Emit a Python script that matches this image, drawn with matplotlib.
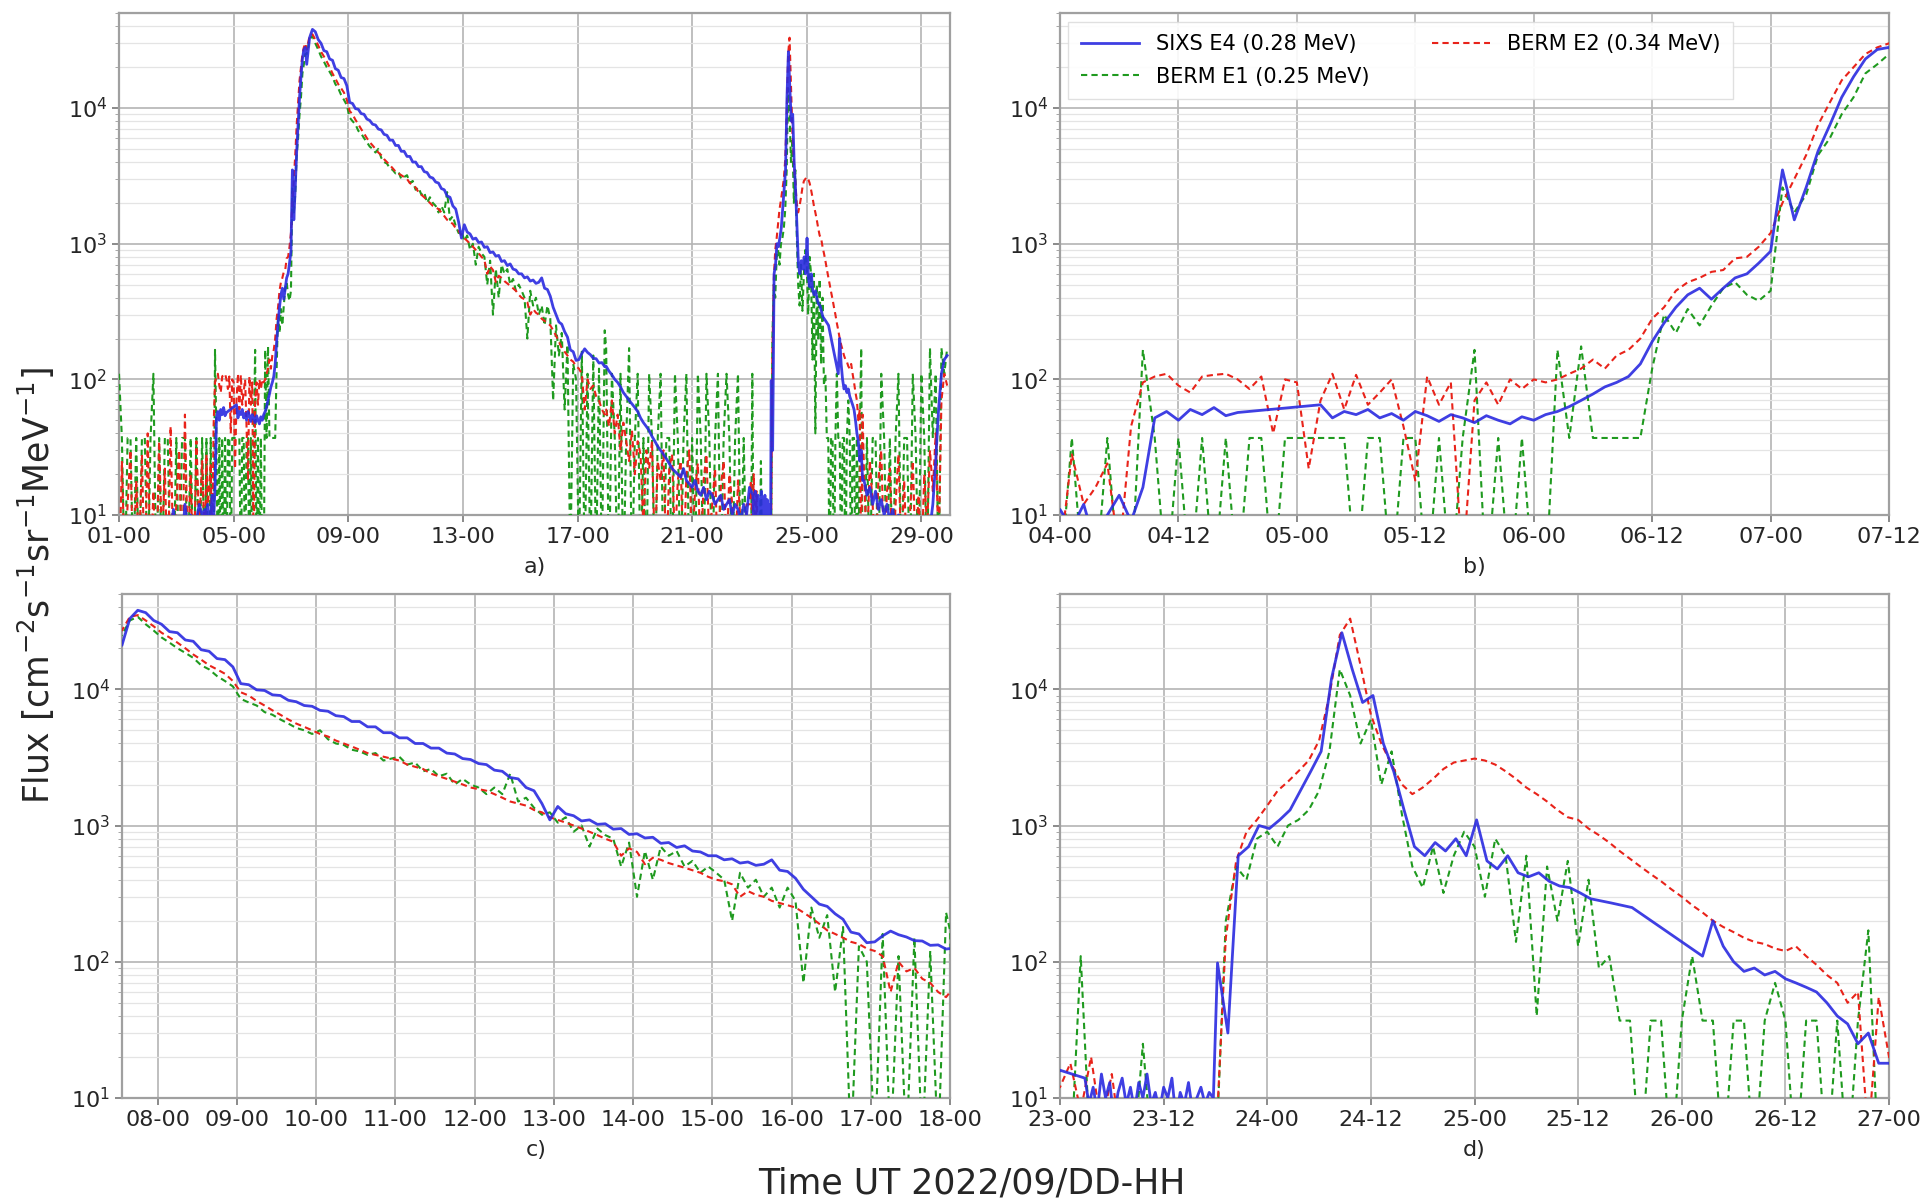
import numpy as np
import matplotlib
matplotlib.use("Agg")
import matplotlib.pyplot as plt
from matplotlib.ticker import FixedLocator, FuncFormatter, LogLocator, NullFormatter

# ---------------------------------------------------------------------------
# DATA  (time in days of September 2022, flux in cm^-2 s^-1 sr^-1 MeV^-1)
# Each series is stored as regularly-sampled segments: (t_start, t_end, values)
# values < 10 are below the plotted range (drop-outs)
# ---------------------------------------------------------------------------
series_labels = ["SIXS E4 (0.28 MeV)", "BERM E1 (0.25 MeV)", "BERM E2 (0.34 MeV)"]

# ---- SIXS E4 ----
sixs_s1 = [8, 6, 9, 5, 7, 8, 6, 9, 7, 5, 8, 6, 9, 7, 8, 5, 9, 6, 8, 11, 7, 9, 6, 12, 8, 10, 7, 9, 12, 10]
sixs_s2a = [11, 8, 12, 6, 10, 14, 9, 16, 52, 58, 50, 60, 55, 62, 54, 57]
sixs_s2b = [65, 52, 58, 55, 60, 52, 56, 50, 58, 54, 49, 55, 52, 48, 54, 50, 47, 53, 50, 55,
            58, 63, 70, 78, 88, 95, 105, 130, 190, 260, 340, 420, 470, 390, 470, 560, 600, 720, 880,
            3500, 1500, 2600, 4800, 7500, 12000, 17000, 23000, 27000, 28000]
sixs_s3 = [21000, 33000, 38000, 36500, 32000, 30000, 26500, 26000, 23000, 22500,
           19500, 19000, 16800, 16500, 14600, 11000, 10800, 9900, 9800, 9100,
           9000, 8300, 8100, 7600, 7500, 7000, 6900, 6400, 6300, 5800,
           5800, 5300, 5300, 4800, 4800, 4400, 4400, 4000, 4000, 3700,
           3700, 3400, 3350, 3100, 3050, 2850, 2800, 2550, 2500, 2250,
           2200, 1900, 1800, 1450, 1100, 1380, 1220, 1180, 1080, 1100,
           1020, 1030, 940, 950, 860, 870, 810, 820, 740, 750,
           690, 710, 650, 640, 600, 600, 560, 570, 530, 540,
           510, 520, 560, 470, 460, 410, 340, 300, 265, 255,
           225, 205, 165, 160, 138, 140, 155, 168, 158, 152,
           143, 142, 132, 133, 124]
sixs_s4 = [125, 115, 108, 100, 95, 88, 80, 75, 70, 66, 62, 58, 52, 48, 45, 42, 38, 35, 32, 30,
           28, 26, 24, 22, 21, 20, 19, 22, 18, 17, 16, 18, 15, 14, 16, 13, 15, 14, 12, 13,
           14, 11, 12, 13, 10, 12, 11, 9, 12, 10]
sixs_s5a = [16]
sixs_s5b = [14, 9, 12, 8, 15, 10, 13, 7, 11, 14, 9, 12, 8, 13, 10, 15, 9, 11, 8, 12,
            10, 14, 7, 11, 9, 13, 8, 10, 12, 9, 11, 10]
sixs_s5c = [98, 30, 600, 700, 1000, 950, 1100, 1300, 1800, 2500, 3500, 12000, 26000, 14000,
            8000, 9000, 4000, 2500, 1300, 700, 600, 750, 650, 800, 600, 1100, 550, 480, 600,
            450, 420, 450, 390, 360, 350, 320, 290, 280, 270, 260, 250]
sixs_s5d = [110, 200, 130, 100, 85, 90, 80, 85, 75, 70, 65, 60, 50, 40, 35, 25, 30, 18]
sixs_s6 = [18, 14, 16, 12, 15, 11, 13, 10, 12, 9, 11, 8, 10, 7, 9, 8, 6, 9, 7, 8,
           6, 9, 7, 8, 12, 25, 60, 110, 140, 150]

# ---- BERM E1 ----
e1_s1 = [110, 37, 3, 37, 37, 3, 37, 3, 37, 37, 3, 37, 110, 3, 37, 3, 37, 37, 3, 3,
         37, 3, 37, 37, 3, 37, 3, 37, 3, 37]
e1_s2 = [3, 37, 3, 3, 37, 3, 3, 165, 37, 3, 37, 3, 37, 3, 37, 3, 37, 37, 3, 37,
         37, 37, 37, 37, 37, 3, 37, 37, 3, 37, 37, 3, 37, 3, 37, 165, 3, 37, 3, 37,
         3, 3, 165, 37, 175, 37, 37, 37, 37, 37, 120, 300, 220, 330, 250, 350, 470, 520, 420, 380,
         450, 2600, 1700, 2300, 4500, 6000, 9000, 12000, 18000, 21000, 25000]
e1_s3 = [25000, 32000, 34000, 30000, 27000, 24000, 22000, 20000, 18500, 17000,
         15000, 14000, 12500, 11500, 10500, 8500, 8000, 7600, 6800, 6500,
         6000, 5600, 5200, 5000, 4700, 5000, 4300, 4000, 3900, 3600,
         3500, 3300, 3400, 3000, 3100, 3200, 2800, 2900, 2500, 2600,
         2300, 2400, 2000, 2200, 2000, 1900, 1700, 1900, 1700, 2400,
         1500, 1600, 1350, 1200, 1250, 1050, 1150, 900, 1000, 700,
         950, 850, 800, 500, 750, 300, 650, 400, 700, 600,
         650, 500, 550, 450, 500, 450, 400, 200, 450, 350,
         400, 300, 350, 250, 350, 280, 70, 250, 150, 220,
         60, 180, 4, 130, 100, 4, 160, 4, 110, 4,
         150, 4, 120, 4, 230]
e1_s4 = [170, 3, 110, 37, 3, 110, 3, 37, 170, 3, 37, 110, 3, 37, 3, 110, 37, 3, 37, 110,
         3, 37, 37, 3, 110, 37, 3, 37, 110, 3, 37, 3, 110, 37, 3, 110, 37, 3, 37, 110,
         3, 37, 110, 37, 3, 37, 110, 3, 37, 3]
e1_s5 = [3, 3, 110, 3, 3, 3, 3, 3, 25, 3, 3, 3, 3, 3, 3, 3, 200, 500, 400, 800,
         900, 700, 1000, 1100, 1300, 1800, 3500, 14000, 9000, 4000, 6000, 2000, 3500, 1200, 500, 350,
         700, 320, 600, 900, 700, 300, 800, 600, 140, 600, 40, 500, 200, 550,
         130, 400, 90, 110, 37, 37, 3, 37, 37, 3, 37, 110, 37, 37, 3, 37, 37, 3, 37, 70,
         37, 3, 37, 37, 3, 37, 3, 37, 170, 3]
e1_s6 = [3, 37, 3, 37, 37, 3, 110, 37, 3, 37, 3, 37, 110, 3, 37, 37, 3, 110, 37, 3,
         110, 37, 3, 170, 37, 110, 3, 170, 110, 170]

# ---- BERM E2 ----
e2_s1 = [3, 25, 4, 12, 30, 3, 18, 5, 28, 3, 40, 4, 15, 3, 35, 6, 22, 3, 45, 4,
         12, 30, 3, 55, 5, 20, 3, 35, 8, 25]
e2_s2 = [5, 28, 12, 16, 24, 5, 45, 95, 105, 110, 90, 80, 105, 108, 110, 100, 85, 105, 40, 100,
         95, 22, 70, 110, 60, 108, 65, 80, 100, 45, 18, 105, 65, 95, 4, 70, 95, 65, 100, 85,
         100, 95, 100, 110, 120, 140, 120, 150, 165, 200, 280, 340, 450, 520, 560, 620, 640, 780, 800, 950,
         1200, 2000, 3000, 4500, 7500, 11000, 16000, 20000, 25000, 28000, 30000]
e2_s3 = [27000, 34000, 35000, 32000, 29000, 26000, 24000, 22000, 20000, 18000,
         16500, 15000, 14000, 13000, 11500, 9500, 9000, 8200, 7600, 7000,
         6500, 6000, 5600, 5300, 5000, 4700, 4500, 4200, 4000, 3800,
         3600, 3400, 3300, 3200, 3100, 3000, 2800, 2700, 2600, 2400,
         2300, 2200, 2100, 2000, 1900, 1850, 1800, 1700, 1600, 1500,
         1450, 1400, 1300, 1250, 1150, 1100, 1050, 1000, 950, 900,
         850, 800, 760, 600, 680, 640, 520, 580, 560, 530,
         510, 490, 470, 450, 420, 400, 390, 370, 300, 330,
         310, 300, 280, 270, 260, 250, 230, 210, 190, 170,
         160, 150, 140, 135, 125, 120, 110, 60, 100, 85,
         90, 75, 70, 60, 55]
e2_s4 = [60, 45, 70, 40, 55, 30, 48, 35, 25, 42, 20, 35, 28, 8, 30, 22, 35, 5, 25, 18,
         30, 4, 22, 28, 6, 18, 25, 4, 20, 30, 5, 15, 24, 4, 18, 28, 6, 12, 22, 4,
         16, 25, 5, 20, 12, 4, 18, 8, 4, 12]
e2_s5 = [12, 18, 8, 20, 6, 15, 4, 4, 4, 4, 4, 4, 4, 4, 4, 4, 150, 550, 900, 1100,
         1400, 1800, 2100, 2500, 3000, 4200, 9000, 25000, 33000, 15000, 6500, 4000, 2800, 2000, 1700, 1900,
         2200, 2600, 2900, 3000, 3100, 3000, 2800, 2500, 2200, 1900, 1700, 1500, 1300, 1150,
         1100, 950, 850, 750, 650, 570, 500, 440, 390, 340, 300, 260, 230, 200, 180, 165,
         150, 140, 135, 125, 120, 130, 110, 95, 80, 70, 50, 60, 5, 55]
e2_s6 = [20, 5, 25, 12, 4, 18, 30, 5, 15, 22, 4, 12, 28, 5, 18, 4, 10, 25, 5, 14,
         4, 20, 8, 30, 15, 40, 5, 70, 110, 90]

# sampled time ranges (days) of the segments
sixs_segments = [(1.0, 4.0, sixs_s1), (4.0, 4.8, sixs_s2a), (5.10, 7.55, sixs_s2b),
                 (7.55, 18.05, sixs_s3), (18.0, 23.0, sixs_s4), (23.0, 23.12, sixs_s5a),
                 (23.12, 23.76, sixs_s5b), (23.76, 25.81, sixs_s5c), (26.10, 27.0, sixs_s5d),
                 (27.0, 30.0, sixs_s6)]
e1_segments = [(1.0, 4.0, e1_s1), (4.0, 7.55, e1_s2), (7.55, 18.05, e1_s3),
               (18.0, 23.0, e1_s4), (23.0, 27.0, e1_s5), (27.0, 30.0, e1_s6)]
e2_segments = [(1.0, 4.0, e2_s1), (4.0, 7.55, e2_s2), (7.55, 18.05, e2_s3),
               (18.0, 23.0, e2_s4), (23.0, 27.0, e2_s5), (27.0, 30.0, e2_s6)]

panel_names = ["a)", "b)", "c)", "d)"]
panel_xlims = [(1.0, 30.0), (4.0, 7.5), (7.55, 18.0), (23.0, 27.0)]
panel_ticks = [[1, 5, 9, 13, 17, 21, 25, 29],
               [4.0, 4.5, 5.0, 5.5, 6.0, 6.5, 7.0, 7.5],
               [8, 9, 10, 11, 12, 13, 14, 15, 16, 17, 18],
               [23.0, 23.5, 24.0, 24.5, 25.0, 25.5, 26.0, 26.5, 27.0]]
y_range = (10, 5e4)


def build(segments):
    ts, vs = [], []
    for t0, t1, vals in segments:
        n = len(vals)
        ts.append(t0 + (t1 - t0) * np.arange(n) / n)
        vs.append(np.asarray(vals, dtype=float))
    return np.concatenate(ts), np.concatenate(vs)


t_sixs, f_sixs = build(sixs_segments)
t_e1, f_e1 = build(e1_segments)
t_e2, f_e2 = build(e2_segments)


def ddhh(x, pos=None):
    d = int(np.floor(x + 1e-6))
    h = int(round((x - d) * 24))
    return f"{d:02d}-{h:02d}"


fig = plt.figure(figsize=(19.29, 12.02), dpi=100)
rects = [[0.0617, 0.5715, 0.4308, 0.4175],
         [0.5495, 0.5715, 0.4298, 0.4175],
         [0.0632, 0.0865, 0.4293, 0.4193],
         [0.5495, 0.0865, 0.4298, 0.4193]]

blue = "#2a2ae0"
red = "#e8231a"
green = "#1f9a1f"
dash = (0, (3, 2))

for i, rect in enumerate(rects):
    ax = fig.add_axes(rect)
    ax.set_yscale("log")
    l_e1, = ax.plot(t_e1, f_e1, color=green, ls=dash, lw=1.5, zorder=3)
    l_e2, = ax.plot(t_e2, f_e2, color=red, ls=dash, lw=1.5, zorder=4)
    l_s, = ax.plot(t_sixs, f_sixs, color=blue, lw=2.0, alpha=0.9, zorder=5)
    ax.set_xlim(*panel_xlims[i])
    ax.set_ylim(*y_range)
    ax.xaxis.set_major_locator(FixedLocator(panel_ticks[i]))
    ax.xaxis.set_major_formatter(FuncFormatter(ddhh))
    ax.yaxis.set_major_locator(LogLocator(base=10, numticks=10))
    ax.yaxis.set_minor_locator(LogLocator(base=10, subs=np.arange(2, 10), numticks=20))
    ax.yaxis.set_minor_formatter(NullFormatter())
    ax.grid(True, which="major", color="#b4b4b4", lw=1.2)
    ax.grid(True, which="minor", axis="y", color="#e4e4e4", lw=0.9)
    ax.set_axisbelow(True)
    ax.tick_params(axis="both", which="major", labelsize=16, colors="#777777",
                   labelcolor="#262626", length=5, width=1.2)
    ax.tick_params(axis="y", which="minor", colors="#999999", length=3)
    for sp in ax.spines.values():
        sp.set_color("#a0a0a0")
        sp.set_linewidth(1.6)
    cx = rect[0] + rect[2] / 2
    cy = rect[1] - 0.043
    fig.text(cx, cy, panel_names[i], ha="center", va="center", fontsize=16, color="#262626")
    if i == 1:
        ax.legend([l_s, l_e1, l_e2], series_labels, ncol=2, loc="upper left",
                  fontsize=15, frameon=True, framealpha=0.9, edgecolor="#dddddd",
                  fancybox=False, borderaxespad=0.4, borderpad=0.6, labelspacing=0.6,
                  columnspacing=3.0, handlelength=2.8)

fig.text(0.019, 0.513, r"Flux [cm$^{-2}$s$^{-1}$sr$^{-1}$MeV$^{-1}$]", rotation=90,
         ha="center", va="center", fontsize=25, color="#262626")
fig.text(0.504, 0.015, "Time UT 2022/09/DD-HH", ha="center", va="center",
         fontsize=25, color="#262626")

fig.savefig("out.png", dpi=100)
